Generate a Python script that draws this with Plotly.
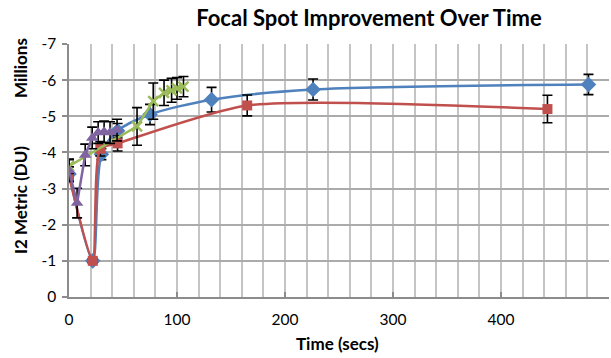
import plotly.graph_objects as go

# ---- data ----
blue_x = [0, 22, 30, 45, 75, 132, 226, 481]
blue_y = [-3.4, -1.0, -3.95, -4.6, -5.05, -5.46, -5.74, -5.88]
blue_err = [0.2, 0.05, 0.15, 0.2, 0.28, 0.34, 0.29, 0.28]

red_x = [0, 22, 29, 45, 165, 443]
red_y = [-3.35, -1.0, -4.1, -4.25, -5.3, -5.2]
red_err = [0.15, 0.05, 0.2, 0.21, 0.29, 0.38]

green_x = [0, 63, 78, 88, 95, 100, 106]
green_y = [-3.62, -4.72, -5.42, -5.65, -5.72, -5.77, -5.82]
green_err = [0.2, 0.52, 0.5, 0.35, 0.33, 0.3, 0.28]

purple_x = [0, 7.5, 15, 21.5, 27, 32.5, 38, 44.5]
purple_y = [-3.5, -2.6, -3.93, -4.4, -4.55, -4.57, -4.55, -4.62]
purple_err = [0.3, 0.41, 0.3, 0.3, 0.3, 0.3, 0.3, 0.3]

x_ticks = [0, 100, 200, 300, 400]
y_ticks = [0, -1, -2, -3, -4, -5, -6, -7]

FONT = "Lato"
BLUE, RED, GREEN, PURPLE = "#4F81BD", "#C0504D", "#9BBB59", "#8064A2"

def err(vals):
    return dict(type="data", array=vals, visible=True, color="black",
                thickness=1.6, width=5)

fig = go.Figure()
fig.add_trace(go.Scatter(x=blue_x, y=blue_y, mode="lines+markers",
                         line=dict(color=BLUE, width=2.5, shape="spline", smoothing=0.8),
                         marker=dict(symbol="diamond", size=12, color=BLUE),
                         error_y=err(blue_err)))
fig.add_trace(go.Scatter(x=red_x, y=red_y, mode="lines+markers",
                         line=dict(color=RED, width=2.5, shape="spline", smoothing=0.65),
                         marker=dict(symbol="square", size=10, color=RED),
                         error_y=err(red_err)))
fig.add_trace(go.Scatter(x=green_x, y=green_y, mode="lines+markers",
                         line=dict(color=GREEN, width=2.5),
                         marker=dict(symbol="x-thin", size=10,
                                     line=dict(color=GREEN, width=2.5)),
                         error_y=err(green_err)))
fig.add_trace(go.Scatter(x=purple_x, y=purple_y, mode="lines+markers",
                         line=dict(color=PURPLE, width=2.5),
                         marker=dict(symbol="triangle-up", size=11, color=PURPLE),
                         error_y=err(purple_err)))

L, R, T, B = 69, 2, 44, 61
W, H = 611, 358
pw, ph = W - L - R, H - T - B

def px_x(p):
    return (p - L) / pw

def px_y(p):
    return (H - B - p) / ph

fig.update_layout(
    width=W, height=H,
    margin=dict(l=L, r=R, t=T, b=B, pad=0),
    paper_bgcolor="white", plot_bgcolor="white",
    showlegend=False,
    font=dict(family=FONT, size=15, color="black"),
    title=dict(text="<b>Focal Spot Improvement Over Time</b>",
               x=369 / W, y=1 - 18 / H, xanchor="center", yanchor="middle",
               font=dict(family=FONT, size=22, color="black")),
)
fig.update_xaxes(range=[0, 500], tickvals=x_ticks, ticktext=[str(v) for v in x_ticks],
                 showgrid=True, gridcolor="#C4C4C4", gridwidth=1.5,
                 minor=dict(dtick=20, tick0=0, showgrid=True, gridcolor="#C4C4C4", gridwidth=1.5),
                 showline=True, linecolor="#8C8C8C", linewidth=1.5,
                 ticks="inside", ticklen=5, tickcolor="#8C8C8C", tickwidth=1.5,
                 ticklabelstandoff=8,
                 zeroline=False, tickfont=dict(size=15.5))
fig.update_yaxes(range=[0, -7], tickvals=y_ticks, ticktext=[str(v) for v in y_ticks],
                 showgrid=True, gridcolor="#ABABAB", gridwidth=1.5,
                 showline=True, linecolor="#8C8C8C", linewidth=1.5,
                 ticks="outside", ticklen=5, tickcolor="#8C8C8C", tickwidth=1.5,
                 ticklabelstandoff=3,
                 zeroline=False, tickfont=dict(size=15.5))

fig.add_annotation(text="<b>I2 Metric (DU)</b>", textangle=-90, showarrow=False,
                   xref="paper", yref="paper", x=px_x(20), y=px_y(200),
                   xanchor="center", yanchor="middle", font=dict(size=17))
fig.add_annotation(text="<b>Millions</b>", textangle=-90, showarrow=False,
                   xref="paper", yref="paper", x=px_x(20), y=px_y(68),
                   xanchor="center", yanchor="middle", font=dict(size=17))
fig.add_annotation(text="<b>Time (secs)</b>", showarrow=False,
                   xref="paper", yref="paper", x=px_x(337), y=px_y(343),
                   xanchor="center", yanchor="middle", font=dict(size=17))

fig.write_html("out.html")
